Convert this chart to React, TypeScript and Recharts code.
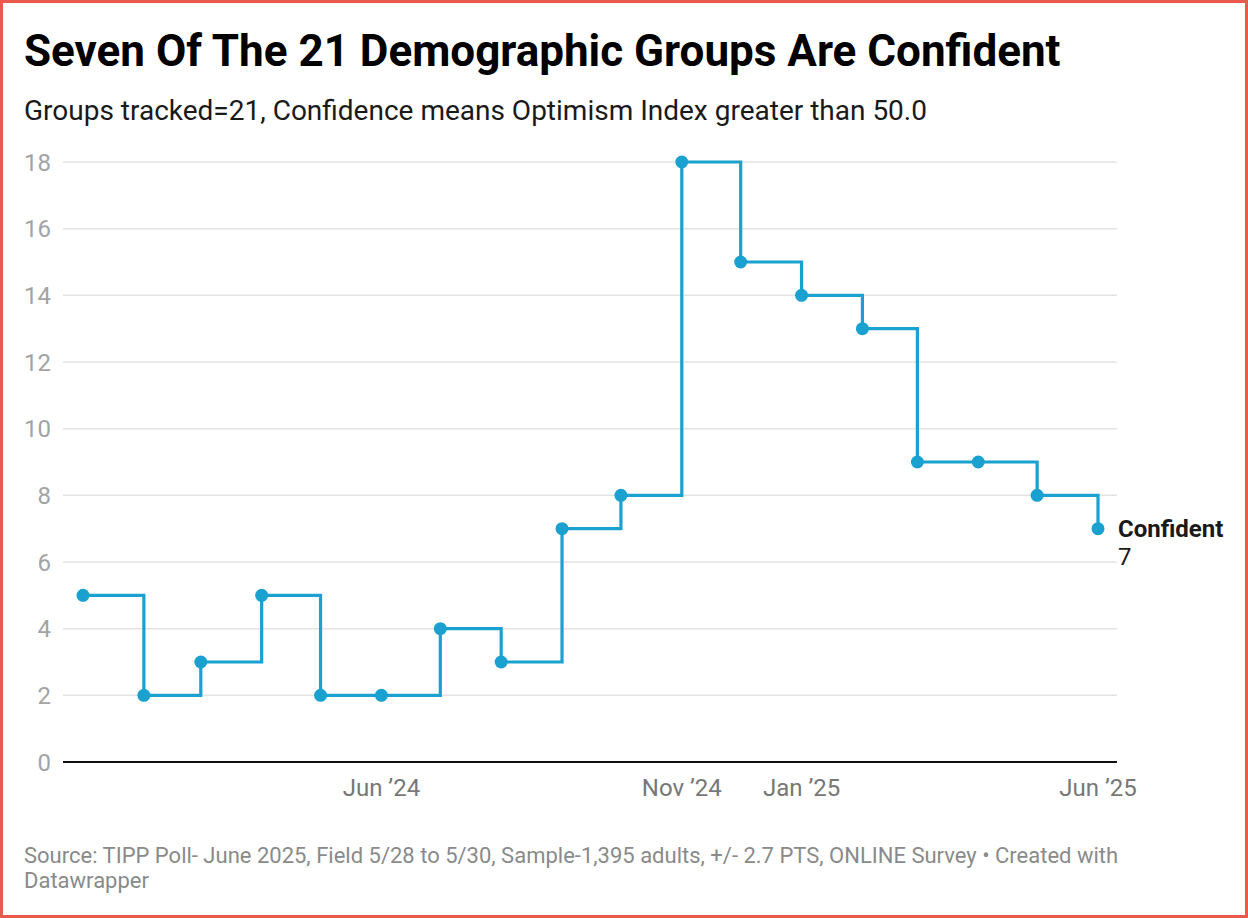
import { LineChart, Line, XAxis, YAxis, CartesianGrid, LabelList } from "recharts"

const months = [
  "2024-01", "2024-02", "2024-03", "2024-04", "2024-05", "2024-06",
  "2024-07", "2024-08", "2024-09", "2024-10", "2024-11", "2024-12",
  "2025-01", "2025-02", "2025-03", "2025-04", "2025-05", "2025-06",
]
const confident = [5, 2, 3, 5, 2, 2, 4, 3, 7, 8, 18, 15, 14, 13, 9, 9, 8, 7]
const xTickMonths = ["2024-06", "2024-11", "2025-01", "2025-06"]
const yTicks = [0, 2, 4, 6, 8, 10, 12, 14, 16, 18]
const MON = ["Jan", "Feb", "Mar", "Apr", "May", "Jun", "Jul", "Aug", "Sep", "Oct", "Nov", "Dec"]

const toTime = (ym: string) => {
  const [y, m] = ym.split("-").map(Number)
  return Date.UTC(y, m - 1, 1)
}
const fmt = (t: number) => {
  const d = new Date(t)
  return `${MON[d.getUTCMonth()]} ’${String(d.getUTCFullYear()).slice(2)}`
}

const rows = months.map((m, i) => ({ t: toTime(m), v: confident[i] }))
const BLUE = "#1aa1cf"
const font = "Roboto, 'Noto Sans', sans-serif"

const EndLabel = (p: any) => {
  if (p.index !== rows.length - 1) return null
  return (
    <g>
      <text x={p.x + 20} y={p.y + 8} fontSize={24} fontWeight={700} fill="#1a1a1a" fontFamily={font}>Confident</text>
      <text x={p.x + 20} y={p.y + 36} fontSize={24} fill="#1a1a1a" fontFamily={font}>{p.value}</text>
    </g>
  )
}

export default function App() {
  return (
    <div style={{ position: "fixed", left: 0, top: 0, width: 1248, height: 918, boxSizing: "border-box", border: "3px solid #ea5a4c", background: "#fff", fontFamily: font, overflow: "hidden" }}>
      <div style={{ position: "absolute", left: 21, top: 22, fontSize: 44, fontWeight: 700, color: "#000", whiteSpace: "nowrap", lineHeight: "normal" }}>
        Seven Of The 21 Demographic Groups Are Confident
      </div>
      <div style={{ position: "absolute", left: 21, top: 91, fontSize: 28, color: "#1a1a1a", whiteSpace: "nowrap", lineHeight: "normal" }}>
        Groups tracked=21, Confidence means Optimism Index greater than 50.0
      </div>
      <div style={{ position: "absolute", left: -3, top: -3 }}>
        <LineChart width={1248} height={918} data={rows} margin={{ top: 162, right: 131, bottom: 116, left: 0 }}>
          <CartesianGrid vertical={false} stroke="#e3e3e3" strokeWidth={1.5} />
          <XAxis
            dataKey="t" type="number" domain={[rows[0].t, rows[rows.length - 1].t]}
            ticks={xTickMonths.map(toTime)} tickFormatter={fmt}
            padding={{ left: 20, right: 19 }} height={40}
            axisLine={{ stroke: "#111", strokeWidth: 2 }} tickLine={false} tickSize={0} tickMargin={17}
            tick={{ fontSize: 24, fill: "#777", fontFamily: font }}
          />
          <YAxis
            domain={[0, 18]} ticks={yTicks} width={63} axisLine={false} tickLine={false}
            tickSize={0} tickMargin={12} tick={{ fontSize: 24, fill: "#a3a3a3", fontFamily: font }}
          />
          <Line
            dataKey="v" type="stepAfter" stroke={BLUE} strokeWidth={3.2}
            dot={{ r: 6.5, fill: BLUE, stroke: "none" }} isAnimationActive={false}
          >
            <LabelList dataKey="v" content={EndLabel} />
          </Line>
        </LineChart>
      </div>
      <div style={{ position: "absolute", left: 21, top: 840, fontSize: 22, lineHeight: "25px", color: "#8a8a8a", whiteSpace: "nowrap" }}>
        Source: TIPP Poll- June 2025, Field 5/28 to 5/30, Sample-1,395 adults, +/- 2.7 PTS, ONLINE Survey • Created with<br />Datawrapper
      </div>
    </div>
  )
}
